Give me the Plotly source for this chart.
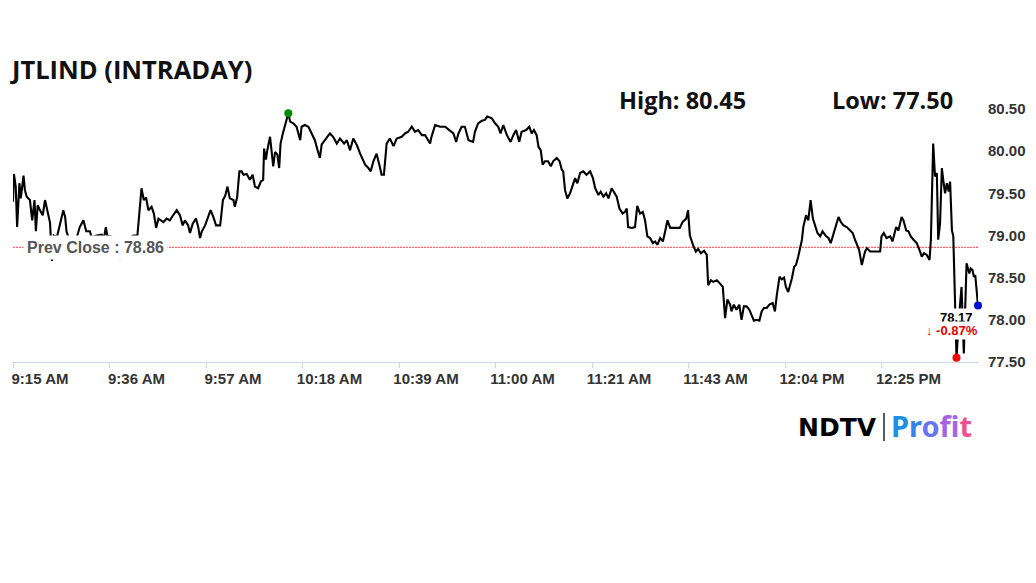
import pandas as pd
import plotly.graph_objects as go

# ---------------- data ----------------
symbol = "JTLIND"
session_open = "2024-06-03 09:15"
prev_close = 78.86
day_high_text = "80.45"
day_low_text = "77.50"

# minutes after 09:15 for each traded price
minutes = [0.0,0.2,0.6,0.9,1.4,1.7,2.3,2.6,3.0,3.7,4.2,4.7,5.0,5.4,5.9,6.5,7.0,7.5,8.1,8.5,8.9,9.6,10.1,10.6,11.0,11.4,11.7,12.1,12.8,13.8,14.6,15.4,16.0,16.8,17.2,18.3,19.4,19.9,20.3,20.6,21.9,22.5,23.4,24.3,25.6,26.3,27.2,27.6,28.1,28.6,29.1,29.6,30.3,30.8,31.3,31.8,32.9,33.6,34.3,35.0,35.8,36.5,37.1,37.6,38.3,38.7,39.3,40.0,40.5,40.9,41.3,42.0,42.7,43.2,43.8,44.4,45.3,45.9,46.4,46.9,47.4,48.2,48.5,49.0,49.5,50.0,50.4,51.1,51.8,52.4,52.9,53.6,54.2,54.7,54.9,55.3,55.6,56.2,56.6,56.9,57.3,57.8,58.2,58.5,59.0,59.5,60.2,60.6,61.3,62.0,62.8,63.1,63.8,64.6,65.3,66.0,66.5,67.1,67.5,68.2,68.6,69.3,70.0,70.8,71.5,72.4,73.0,73.7,74.4,75.2,75.9,76.5,77.0,77.7,78.2,78.8,79.5,80.1,80.6,81.1,81.7,82.4,83.2,83.9,85.0,85.7,86.4,87.2,87.9,88.6,89.4,90.1,91.2,91.5,92.3,93.4,94.5,95.4,96.3,96.9,97.4,98.1,98.8,99.6,100.6,101.0,101.7,102.5,103.2,103.7,104.7,105.4,106.1,106.6,107.2,108.0,108.8,109.4,110.0,110.7,111.2,112.2,112.9,113.4,113.9,114.5,114.9,115.4,115.8,116.3,117.0,117.6,118.1,118.9,119.5,120.0,120.3,120.7,121.2,121.8,122.4,122.9,123.4,124.0,124.7,125.4,126.2,126.8,127.3,128.0,128.5,129.1,129.7,130.2,130.9,131.4,132.0,132.6,133.3,133.8,134.2,134.5,135.3,136.0,136.5,137.1,137.7,138.2,138.7,139.3,139.9,140.4,140.9,141.5,142.1,142.6,143.1,143.7,144.7,145.8,146.4,147.2,147.6,148.0,148.8,149.3,149.8,150.4,151.1,151.7,152.0,152.6,153.1,153.9,154.6,155.2,155.7,156.2,156.8,157.1,157.6,158.2,158.8,159.3,159.8,160.4,161.0,161.5,162.0,162.6,163.2,163.7,164.2,164.8,165.4,166.1,166.6,167.0,167.6,168.1,168.6,169.0,169.5,169.9,170.3,170.8,171.2,171.7,172.1,172.5,172.8,173.4,173.9,174.4,174.9,175.4,175.9,176.5,177.0,177.8,178.3,178.8,179.4,180.0,180.5,181.0,181.6,182.3,183.0,183.6,184.1,184.6,185.0,185.6,185.9,186.3,186.7,187.4,188.5,189.6,189.9,190.4,191.0,191.8,192.3,193.1,193.6,194.3,194.7,195.3,195.8,196.3,196.9,197.6,198.2,198.7,199.2,199.8,200.4,200.7,201.2,201.6,202.0,202.3,202.7,203.1,203.4,203.8,204.2,204.6,204.9,205.3,205.6,206.3,206.8,207.4,207.9,208.5,209.1,209.4,209.8,210.1,210.4,210.8,211.0]

prices = [79.40,79.73,79.58,79.10,79.62,79.44,79.71,79.54,79.46,79.42,79.18,79.42,79.05,79.36,79.30,79.24,79.42,79.30,79.15,78.70,79.00,78.98,79.09,79.21,79.30,79.22,79.05,78.98,78.97,78.95,79.10,79.18,79.05,79.05,78.98,79.00,79.01,78.97,79.10,79.00,78.98,78.95,78.72,78.95,78.97,79.00,79.00,79.24,79.56,79.42,79.45,79.30,79.34,79.26,79.09,79.20,79.16,79.20,79.18,79.24,79.30,79.24,79.12,79.18,79.12,79.03,79.14,79.20,79.10,78.97,79.05,79.12,79.24,79.30,79.22,79.12,79.12,79.42,79.47,79.58,79.44,79.42,79.34,79.45,79.76,79.76,79.72,79.73,79.66,79.72,79.58,79.56,79.64,79.66,80.03,79.90,80.01,80.17,79.97,79.82,79.99,79.96,79.80,80.09,80.21,80.31,80.45,80.35,80.33,80.29,80.13,80.29,80.31,80.29,80.21,80.13,80.03,79.92,80.08,80.13,80.17,80.21,80.17,80.09,80.15,80.09,80.13,80.01,80.15,80.07,79.97,79.90,79.84,79.80,79.76,79.88,79.97,79.84,79.72,79.72,80.09,80.15,80.06,80.15,80.17,80.21,80.23,80.29,80.23,80.25,80.19,80.19,80.09,80.17,80.31,80.29,80.29,80.25,80.21,80.11,80.21,80.29,80.29,80.13,80.11,80.23,80.33,80.36,80.37,80.41,80.39,80.33,80.29,80.21,80.31,80.19,80.11,80.19,80.25,80.11,80.23,80.25,80.29,80.21,80.25,80.19,80.05,80.01,79.84,79.88,79.88,79.82,79.88,79.92,79.88,79.78,79.76,79.54,79.44,79.50,79.60,79.68,79.62,79.74,79.76,79.72,79.76,79.68,79.56,79.48,79.52,79.46,79.50,79.44,79.56,79.52,79.46,79.32,79.26,79.28,79.32,79.10,79.09,79.10,79.35,79.26,79.28,79.18,78.99,78.97,78.91,78.93,78.89,78.97,78.93,79.05,79.18,79.09,79.09,79.09,79.16,79.20,79.30,79.00,78.87,78.81,78.84,78.79,78.82,78.77,78.41,78.47,78.45,78.47,78.43,78.39,78.02,78.24,78.18,78.10,78.18,78.12,78.18,78.00,78.16,78.16,78.12,78.06,77.99,78.00,77.99,78.10,78.14,78.14,78.18,78.20,78.10,78.29,78.51,78.48,78.50,78.39,78.33,78.41,78.49,78.63,78.65,78.75,78.85,78.95,79.10,79.24,79.18,79.42,79.20,79.10,79.03,78.99,79.05,78.99,78.97,78.91,79.03,79.12,79.22,79.16,79.12,79.10,79.06,79.03,78.95,78.89,78.83,78.65,78.71,78.81,78.85,78.81,78.81,78.81,78.99,79.03,78.97,78.99,78.93,79.10,79.06,79.22,79.18,79.06,79.05,78.99,78.95,78.91,78.83,78.75,78.79,78.77,78.71,78.95,80.09,79.70,79.74,78.95,79.14,79.80,79.66,79.50,79.62,79.52,79.64,79.06,78.99,77.55,78.00,78.39,77.60,78.67,78.55,78.61,78.59,78.51,78.53,78.24,78.17]

tick_minutes = [0, 21.1, 42.2, 63.3, 84.4, 105.5, 126.6, 147.7, 168.8, 189.9]
tick_labels = ["9:15 AM", "9:36 AM", "9:57 AM", "10:18 AM", "10:39 AM", "11:00 AM",
               "11:21 AM", "11:43 AM", "12:04 PM", "12:25 PM"]
session_span_min = 211.0
y_ticks = [77.5, 78.0, 78.5, 79.0, 79.5, 80.0, 80.5]

assert len(minutes) == len(prices), (len(minutes), len(prices))

# ---------------- build ----------------
base = pd.Timestamp(session_open)
times = [base + pd.Timedelta(minutes=m) for m in minutes]
fmt = "%Y-%m-%d %H:%M:%S"
tick_times = [(base + pd.Timedelta(minutes=m)).strftime(fmt) for m in tick_minutes]
x_end = (base + pd.Timedelta(minutes=session_span_min)).strftime(fmt)

i_hi = max(range(len(prices)), key=lambda i: prices[i])
i_lo = min(range(len(prices)), key=lambda i: prices[i])
last = prices[-1]
chg = (last - prev_close) / prev_close * 100

AX_FONT = dict(family="Liberation Sans, Arial, sans-serif", size=15, color="#333333", weight=700)

# page is shown with an 8px body margin, so the plot box is placed 8px up/left
OFF = 8
PL, PR, PT, PB = 13, 978, 109, 362   # plot box in screenshot pixels

fig = go.Figure()
fig.add_trace(go.Scatter(x=times, y=prices, mode="lines",
                         line=dict(color="#000000", width=2.1), hoverinfo="skip"))
for idx, col in [(i_hi, "#008a00"), (i_lo, "#ff0000"), (len(prices) - 1, "#0010d0")]:
    fig.add_trace(go.Scatter(x=[times[idx]], y=[prices[idx]], mode="markers",
                             marker=dict(color=col, size=8), cliponaxis=False, hoverinfo="skip"))

fig.add_shape(type="line", xref="paper", x0=0, x1=1, yref="y", y0=prev_close, y1=prev_close,
              line=dict(color="#ff3b3b", width=1, dash="2px,1px"), layer="below")

fig.update_layout(
    width=1036, height=583,
    margin=dict(l=PL - OFF, r=1036 - (PR - OFF), t=PT - OFF, b=583 - (PB - OFF), autoexpand=False),
    paper_bgcolor="white", plot_bgcolor="white",
    showlegend=False,
    xaxis=dict(type="date", range=[tick_times[0], x_end],
               tickmode="array", tickvals=tick_times, ticktext=tick_labels,
               showgrid=False, zeroline=False, showline=True, linecolor="#ccd6eb", linewidth=1,
               ticks="outside", ticklen=5, tickcolor="#ccd6eb",
               tickfont=AX_FONT, ticklabelshift=27, ticklabelstandoff=-2),
    yaxis=dict(side="right", range=[y_ticks[0], y_ticks[-1]], tickmode="array",
               tickvals=y_ticks, tickformat=".2f", showgrid=False, zeroline=False,
               showline=False, ticks="", tickfont=AX_FONT, ticklabelstandoff=9),
)

def px_x(p):
    return (p - PL) / float(PR - PL)

def px_y(p):
    return (PB - p) / float(PB - PT)

annotations = [
    dict(text="<b>%s (INTRADAY)</b>" % symbol, x=px_x(8), y=px_y(69), xanchor="left", yanchor="middle",
         font=dict(family="Open Sans", size=25.5, color="#111111")),
    dict(text="<b>High: %s</b>" % day_high_text, x=px_x(617), y=px_y(100), xanchor="left", yanchor="middle",
         font=dict(family="Open Sans", size=23.5, color="#111111")),
    dict(text="<b>Low: %s</b>" % day_low_text, x=px_x(830), y=px_y(100), xanchor="left", yanchor="middle",
         font=dict(family="Open Sans", size=23.5, color="#111111")),
    dict(text="<b>Prev Close : %.2f</b>" % prev_close, x=px_x(95), y=prev_close, yref="y",
         xanchor="center", yanchor="middle", bgcolor="white", borderpad=3,
         font=dict(family="Liberation Sans, Arial", size=16, color="#555555")),
    dict(text="<b>%.2f</b>" % last, x=px_x(956), y=px_y(317), xanchor="center", yanchor="middle",
         bgcolor="white", borderpad=1,
         font=dict(family="Liberation Sans, Arial", size=13, color="#000000")),
    dict(text="<b>\u2193 %.2f%%</b>" % chg, x=px_x(952), y=px_y(330), xanchor="center", yanchor="middle",
         bgcolor="white", borderpad=1,
         font=dict(family="Liberation Sans, Arial", size=13, color="#e00000")),
    dict(text="<b>NDTV</b>", x=px_x(796), y=px_y(427), xanchor="left", yanchor="middle",
         font=dict(family="DejaVu Sans", size=25, color="#000000")),
    dict(text="<b><span style='color:#1f8fe6'>P</span><span style='color:#3582ea'>r</span>"
              "<span style='color:#6a74ee'>o</span><span style='color:#a863e2'>f</span>"
              "<span style='color:#d957c0'>i</span><span style='color:#ef5190'>t</span></b>",
         x=px_x(889), y=px_y(426), xanchor="left", yanchor="middle",
         font=dict(family="Noto Sans", size=29)),
]
for a in annotations:
    a.setdefault("xref", "paper")
    a.setdefault("yref", "paper")
    a["showarrow"] = False
fig.update_layout(annotations=annotations)

fig.add_shape(type="line", xref="paper", yref="paper", x0=px_x(884), x1=px_x(884),
              y0=px_y(441), y1=px_y(413), line=dict(color="#222222", width=1.5))

fig.write_html("out.html")
